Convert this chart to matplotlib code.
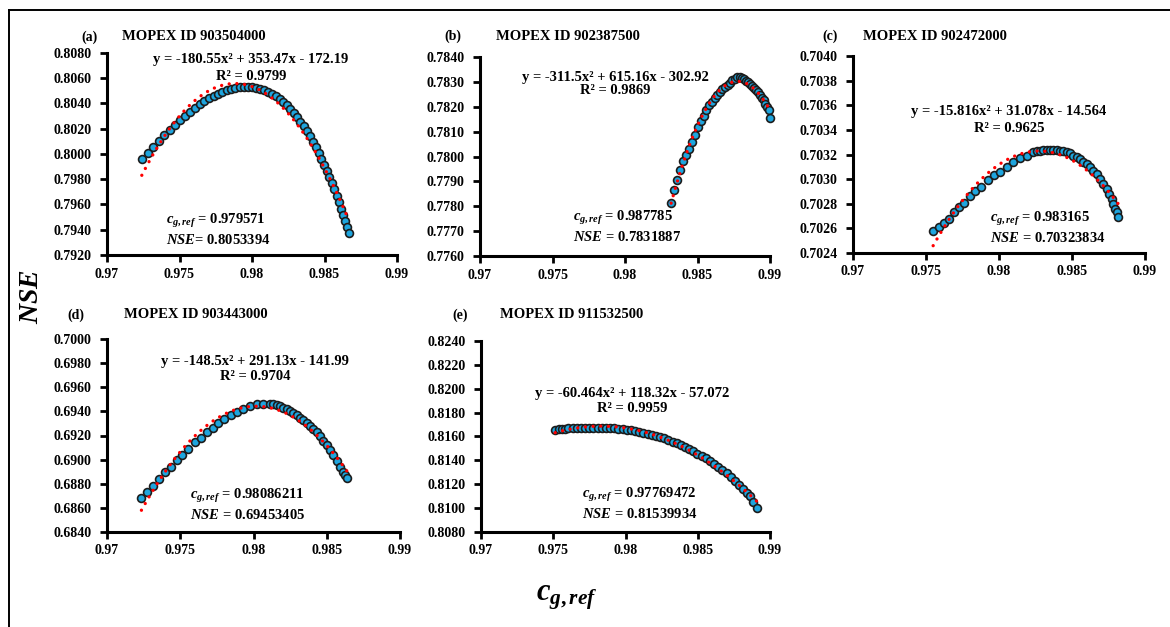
import numpy as np
import matplotlib.pyplot as plt
from matplotlib.lines import Line2D
from matplotlib.ticker import FuncFormatter, MultipleLocator

plt.rcParams['font.family'] = 'Liberation Serif'
plt.rcParams['font.weight'] = 'bold'
plt.rcParams['mathtext.fontset'] = 'custom'
plt.rcParams['mathtext.it'] = 'Liberation Serif:bold:italic'
plt.rcParams['mathtext.rm'] = 'Liberation Serif:bold'
plt.rcParams['mathtext.bf'] = 'Liberation Serif:bold'

# --- data (c_g,ref vs NSE) ---
cg_a = [0.97240, 0.97280, 0.97320, 0.97358, 0.97396, 0.97434, 0.97470, 0.97505, 0.97540, 0.97574,
        0.97607, 0.97639, 0.97671, 0.97703, 0.97735, 0.97766, 0.97796, 0.97826, 0.97856, 0.97886,
        0.97916, 0.97945, 0.97974, 0.98002, 0.98030, 0.98058, 0.98085, 0.98112, 0.98138, 0.98164,
        0.98190, 0.98215, 0.98240, 0.98264, 0.98288, 0.98311, 0.98334, 0.98356, 0.98378, 0.98399,
        0.98420, 0.98440, 0.98460, 0.98479, 0.98498, 0.98516, 0.98534, 0.98551, 0.98568, 0.98584,
        0.98600, 0.98615, 0.98629, 0.98643, 0.98656, 0.98668]
nse_a = [0.79958, 0.80009, 0.80056, 0.80106, 0.80151, 0.80191, 0.80228, 0.80268, 0.80302, 0.80336,
         0.80368, 0.80395, 0.80418, 0.80442, 0.80463, 0.80479, 0.80494, 0.80508, 0.80518, 0.80526,
         0.80532, 0.80534, 0.80534, 0.80531, 0.80525, 0.80517, 0.80506, 0.80493, 0.80477, 0.80458,
         0.80436, 0.80412, 0.80386, 0.80357, 0.80326, 0.80293, 0.80257, 0.80221, 0.80181, 0.80141,
         0.80098, 0.80055, 0.80009, 0.79964, 0.79916, 0.79868, 0.79818, 0.79770, 0.79719, 0.79669,
         0.79618, 0.79568, 0.79520, 0.79470, 0.79423, 0.79378]

cg_b = [0.98318, 0.98338, 0.98357, 0.98378, 0.98400, 0.98420, 0.98440, 0.98460, 0.98481, 0.98502,
        0.98522, 0.98542, 0.98561, 0.98580, 0.98599, 0.98618, 0.98636, 0.98654, 0.98672, 0.98690,
        0.98707, 0.98724, 0.98741, 0.98758, 0.98774, 0.98790, 0.98806, 0.98821, 0.98836, 0.98851,
        0.98865, 0.98879, 0.98893, 0.98906, 0.98919, 0.98932, 0.98944, 0.98956, 0.98968, 0.98979,
        0.98990, 0.99001]
nse_b = [0.77814, 0.77865, 0.77905, 0.77946, 0.77982, 0.78008, 0.78032, 0.78057, 0.78086, 0.78118,
         0.78141, 0.78164, 0.78186, 0.78206, 0.78221, 0.78235, 0.78248, 0.78259, 0.78270, 0.78279,
         0.78288, 0.78297, 0.78306, 0.78313, 0.78318, 0.78319, 0.78315, 0.78310, 0.78304, 0.78299,
         0.78292, 0.78285, 0.78276, 0.78268, 0.78258, 0.78248, 0.78237, 0.78226, 0.78213, 0.78199,
         0.78185, 0.78155]

cg_c = [0.97549, 0.97588, 0.97622, 0.97658, 0.97693, 0.97727, 0.97761, 0.97800, 0.97839, 0.97880,
        0.97922, 0.97965, 0.98006, 0.98052, 0.98097, 0.98143, 0.98189, 0.98234, 0.98257, 0.98280,
        0.98303, 0.98326, 0.98348, 0.98371, 0.98394, 0.98417, 0.98440, 0.98463, 0.98486, 0.98509,
        0.98531, 0.98554, 0.98577, 0.98600, 0.98623, 0.98646, 0.98669, 0.98692, 0.98715, 0.98738,
        0.98755, 0.98772, 0.98784, 0.98795, 0.98806, 0.98817]
nse_c = [0.70258, 0.70261, 0.70264, 0.70268, 0.70273, 0.70277, 0.70281, 0.70286, 0.70290, 0.70294,
         0.70299, 0.70303, 0.70306, 0.70310, 0.70314, 0.70317, 0.70319, 0.70322, 0.70323, 0.70323,
         0.70324, 0.70324, 0.70324, 0.70324, 0.70324, 0.70323, 0.70323, 0.70322, 0.70321, 0.70319,
         0.70318, 0.70316, 0.70314, 0.70312, 0.70310, 0.70307, 0.70304, 0.70300, 0.70296, 0.70292,
         0.70288, 0.70284, 0.70280, 0.70276, 0.70273, 0.70269]

cg_d = [0.97235, 0.97274, 0.97315, 0.97356, 0.97395, 0.97434, 0.97475, 0.97513, 0.97554, 0.97600,
        0.97639, 0.97680, 0.97721, 0.97759, 0.97800, 0.97844, 0.97885, 0.97930, 0.97976, 0.98022,
        0.98067, 0.98113, 0.98136, 0.98159, 0.98182, 0.98204, 0.98227, 0.98249, 0.98272, 0.98295,
        0.98318, 0.98340, 0.98363, 0.98386, 0.98409, 0.98432, 0.98455, 0.98477, 0.98500, 0.98523,
        0.98546, 0.98569, 0.98591, 0.98614, 0.98626, 0.98637]
nse_d = [0.68682, 0.68734, 0.68784, 0.68839, 0.68894, 0.68941, 0.68996, 0.69040, 0.69087, 0.69142,
         0.69183, 0.69231, 0.69266, 0.69303, 0.69336, 0.69369, 0.69396, 0.69423, 0.69443, 0.69457,
         0.69462, 0.69460, 0.69457, 0.69452, 0.69443, 0.69432, 0.69419, 0.69404, 0.69387, 0.69369,
         0.69349, 0.69327, 0.69304, 0.69280, 0.69253, 0.69225, 0.69192, 0.69156, 0.69119, 0.69079,
         0.69036, 0.68991, 0.68943, 0.68894, 0.68870, 0.68847]

cg_e = [0.97513, 0.97537, 0.97560, 0.97583, 0.97605, 0.97634, 0.97663, 0.97692, 0.97721, 0.97750,
        0.97778, 0.97807, 0.97836, 0.97865, 0.97894, 0.97923, 0.97951, 0.97980, 0.98009, 0.98038,
        0.98066, 0.98095, 0.98124, 0.98153, 0.98182, 0.98211, 0.98239, 0.98268, 0.98297, 0.98326,
        0.98355, 0.98384, 0.98412, 0.98441, 0.98469, 0.98498, 0.98527, 0.98556, 0.98585, 0.98614,
        0.98642, 0.98671, 0.98700, 0.98729, 0.98757, 0.98786, 0.98815, 0.98838, 0.98861, 0.98884,
        0.98907]
nse_e = [0.81655, 0.81659, 0.81663, 0.81666, 0.81669, 0.81670, 0.81671, 0.81673, 0.81674, 0.81674,
         0.81674, 0.81674, 0.81674, 0.81673, 0.81671, 0.81668, 0.81665, 0.81661, 0.81657, 0.81652,
         0.81646, 0.81639, 0.81632, 0.81624, 0.81615, 0.81606, 0.81596, 0.81584, 0.81571, 0.81557,
         0.81543, 0.81528, 0.81513, 0.81495, 0.81477, 0.81457, 0.81437, 0.81417, 0.81396, 0.81372,
         0.81348, 0.81321, 0.81293, 0.81262, 0.81231, 0.81197, 0.81162, 0.81130, 0.81098, 0.81052,
         0.81003]

panel_tags = ['(a)', '(b)', '(c)', '(d)', '(e)']
mopex_ids = ['903504000', '902387500', '902472000', '903443000', '911532500']
equations = ['y = -180.55x² + 353.47x - 172.19', 'y = -311.5x² + 615.16x - 302.92',
             'y = -15.816x² + 31.078x - 14.564', 'y = -148.5x² + 291.13x - 141.99',
             'y = -60.464x² + 118.32x - 57.072']
r2_values = ['0.9799', '0.9869', '0.9625', '0.9704', '0.9959']
cg_best = ['0.979571', '0.987785', '0.983165', '0.98086211', '0.97769472']
nse_best = ['0.8053394', '0.7831887', '0.70323834', '0.69453405', '0.81539934']
y_lims = [(0.7920, 0.8080), (0.7760, 0.7840), (0.7024, 0.7040), (0.6840, 0.7000), (0.8080, 0.8240)]
y_steps = [0.002, 0.001, 0.0002, 0.002, 0.002]

xs = [cg_a, cg_b, cg_c, cg_d, cg_e]
ys = [nse_a, nse_b, nse_c, nse_d, nse_e]

W, H = 1170, 627
fig = plt.figure(figsize=(W / 100, H / 100), dpi=100)


def fx(x):
    return x / W


def fy(y):
    return 1 - y / H


# axes boxes in pixels: left, right, top, bottom
boxes = [(107, 397, 53, 255), (480, 770, 57, 256), (853, 1145, 56, 253),
         (107, 400, 339, 532), (481, 770, 341, 532)]
# text anchors in pixels
tag_pos = [(90, 37), (453, 36), (830, 36), (76, 315), (460, 315)]
title_x = [122, 496, 863, 124, 500]
eq_pos = [(251, 59), (615, 77), (1009, 112), (255, 362), (632, 393)]
r2_dy = [17, 14, 16, 15, 15]
note_pos = [(166, 221), (573, 218), (990, 219), (190, 496), (582, 495)]

for i in range(5):
    l, r, t, b = boxes[i]
    ax = fig.add_axes([fx(l), fy(b), (r - l) / W, (b - t) / H])
    x = np.array(xs[i])
    y = np.array(ys[i])
    ax.scatter(x, y, s=32, c='#1EA5DE', edgecolors='#1c1c1c', linewidths=1.2, zorder=2, clip_on=False)

    # second order polynomial trendline through the points
    coef = np.polyfit(x, y, 2)
    xx = np.linspace(x.min(), x.max(), 300)
    ax.plot(xx, np.polyval(coef, xx), color='red', lw=2.4, ls=(0, (0.01, 2.3)),
            dash_capstyle='round', zorder=3, clip_on=False)

    ax.set_xlim(0.97, 0.99)
    ax.set_ylim(*y_lims[i])
    ax.xaxis.set_major_locator(MultipleLocator(0.005))
    ax.yaxis.set_major_locator(MultipleLocator(y_steps[i]))
    ax.xaxis.set_major_formatter(FuncFormatter(lambda v, p: '%g' % round(v, 4)))
    ax.yaxis.set_major_formatter(FuncFormatter(lambda v, p: '%.4f' % v))
    for s in ['top', 'right']:
        ax.spines[s].set_visible(False)
    for s in ['left', 'bottom']:
        ax.spines[s].set_linewidth(2.2)
        ax.spines[s].set_color('black')
    ax.tick_params(axis='both', direction='out', length=5, width=2, labelsize=10)
    ax.tick_params(axis='y', pad=6)
    ax.tick_params(axis='x', pad=4)
    ax.patch.set_alpha(0)

    tx, ty = tag_pos[i]
    fig.text(fx(tx), fy(ty), panel_tags[i], ha='center', va='center', fontsize=10)
    fig.text(fx(title_x[i]), fy(ty), 'MOPEX ID ' + mopex_ids[i], ha='left', va='center', fontsize=10.5)
    ex, ey = eq_pos[i]
    fig.text(fx(ex), fy(ey), equations[i], ha='center', va='center', fontsize=10.5)
    fig.text(fx(ex), fy(ey + r2_dy[i]), 'R² = ' + r2_values[i], ha='center', va='center', fontsize=10.5)
    nx, ny = note_pos[i]
    fig.text(fx(nx), fy(ny), r'$c_{g,ref}$ = ' + cg_best[i], ha='left', va='center', fontsize=10.5)
    eq_sign = '= ' if i == 0 else ' = '
    fig.text(fx(nx), fy(ny + 19), r'$NSE$' + eq_sign + nse_best[i], ha='left', va='center', fontsize=10.5)

# shared axis titles
fig.text(fx(32), fy(297), r'$NSE$', rotation=90, ha='center', va='center', fontsize=20)
fig.text(fx(567), fy(598), r'$c_{g,ref}$', ha='center', va='center', fontsize=22)

# frame lines along the top and left edge
fig.add_artist(Line2D([fx(8.5), fx(8.5)], [0, fy(9.5)], color='black', lw=1.4))
fig.add_artist(Line2D([fx(8.5), 1], [fy(9.5), fy(9.5)], color='black', lw=1.4))

fig.savefig('out.png', dpi=100)
